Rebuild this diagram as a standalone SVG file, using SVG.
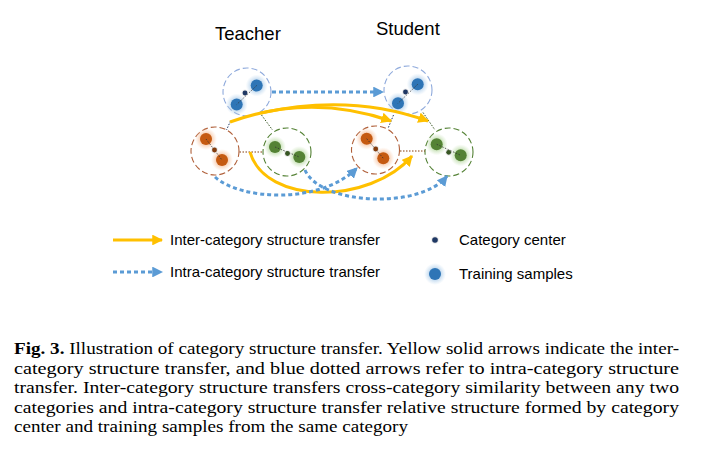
<svg xmlns="http://www.w3.org/2000/svg" width="702" height="455" viewBox="0 0 702 455">
<style>
.lbl{font-family:"Liberation Sans",Arial,sans-serif;font-size:15px;fill:#000}
.ttl{font-family:"Liberation Sans",Arial,sans-serif;font-size:18.5px;fill:#000}
.cap{font-family:"Liberation Serif","DejaVu Serif",serif;font-size:16.5px;fill:#000}
.ring{fill:#fff;stroke-width:1.1;stroke-dasharray:6 3}
.rb{stroke:#8faadc}.ro{stroke:#b0603a}.rg{stroke:#548235}
.inner{stroke:#333;stroke-width:0.8;stroke-dasharray:1.5 1.5;fill:none}
.link{stroke-width:1;stroke-dasharray:1.5 1.5;fill:none}
.yel{fill:none;stroke:#ffc000;stroke-width:3}
.blu{fill:none;stroke:#5b9bd5;stroke-width:3;stroke-dasharray:4 3}
</style>
<defs>
<radialGradient id="gb"><stop offset="0.35" stop-color="#9dc3e6" stop-opacity="0.9"/><stop offset="1" stop-color="#bdd7ee" stop-opacity="0"/></radialGradient>
<radialGradient id="go"><stop offset="0.35" stop-color="#f4b183" stop-opacity="0.9"/><stop offset="1" stop-color="#f8cbad" stop-opacity="0"/></radialGradient>
<radialGradient id="gg"><stop offset="0.35" stop-color="#a9d18e" stop-opacity="0.9"/><stop offset="1" stop-color="#c5e0b4" stop-opacity="0"/></radialGradient>
<radialGradient id="gc"><stop offset="0.3" stop-color="#aaa" stop-opacity="0.8"/><stop offset="1" stop-color="#ccc" stop-opacity="0"/></radialGradient>
<marker id="ay" viewBox="0 0 10 10" refX="9" refY="5" markerWidth="3.6" markerHeight="3.6" orient="auto" markerUnits="strokeWidth"><path d="M0,0 L10,5 L0,10 z" fill="#ffc000"/></marker>
<marker id="ab" viewBox="0 0 10 10" refX="9" refY="5" markerWidth="3.6" markerHeight="3.6" orient="auto" markerUnits="strokeWidth"><path d="M0,0 L10,5 L0,10 z" fill="#5b9bd5"/></marker>
<g id="sb"><circle r="11" fill="url(#gb)"/><circle r="6" fill="#2e75b6"/></g>
<g id="so"><circle r="11" fill="url(#go)"/><circle r="6" fill="#c55a11"/></g>
<g id="sg"><circle r="11" fill="url(#gg)"/><circle r="6" fill="#548235"/></g>
</defs>
<rect width="702" height="455" fill="#fff"/>
<text class="ttl" x="215" y="40">Teacher</text>
<text class="ttl" x="376" y="35">Student</text>

<g id="teacher-blue">
<circle class="ring rb" cx="247" cy="92" r="24"/>
<use href="#sb" x="256.7" y="85.5"/><use href="#sb" x="236.7" y="104.5"/>
<path class="inner" d="M256.7,85.5 L236.7,104.5"/>
<circle cx="245" cy="93" r="4" fill="url(#gc)"/><circle cx="245" cy="93" r="2.4" fill="#1f3864"/>
</g>
<g id="teacher-orange">
<circle class="ring ro" cx="215" cy="151" r="24"/>
<use href="#so" x="206" y="139"/><use href="#so" x="222" y="160"/>
<path class="inner" d="M206,139 L222,160"/>
<circle cx="214.5" cy="150" r="4" fill="url(#gc)"/><circle cx="214.5" cy="150" r="2.4" fill="#843c0c"/>
</g>
<g id="teacher-green">
<circle class="ring rg" cx="287" cy="152" r="24"/>
<use href="#sg" x="275" y="147"/><use href="#sg" x="299.3" y="157"/>
<path class="inner" d="M275,147 L299.3,157"/>
<circle cx="287.5" cy="153.5" r="4" fill="url(#gc)"/><circle cx="287.5" cy="153.5" r="2.4" fill="#375623"/>
</g>
<g id="student-blue">
<circle class="ring rb" cx="408" cy="90" r="24"/>
<use href="#sb" x="417.7" y="84.3"/><use href="#sb" x="398" y="103.3"/>
<path class="inner" d="M417.7,84.3 L398,103.3"/>
<circle cx="405.5" cy="92" r="4" fill="url(#gc)"/><circle cx="405.5" cy="92" r="2.4" fill="#1f3864"/>
</g>
<g id="student-orange">
<circle class="ring ro" cx="375.5" cy="150" r="24"/>
<use href="#so" x="366.7" y="138.7"/><use href="#so" x="383.3" y="158.3"/>
<path class="inner" d="M366.7,138.7 L383.3,158.3"/>
<circle cx="375.7" cy="149" r="4" fill="url(#gc)"/><circle cx="375.7" cy="149" r="2.4" fill="#843c0c"/>
</g>
<g id="student-green">
<circle class="ring rg" cx="449" cy="152" r="24"/>
<use href="#sg" x="436.7" y="144.3"/><use href="#sg" x="460.7" y="155.3"/>
<path class="inner" d="M436.7,144.3 L460.7,155.3"/>
<circle cx="448.7" cy="152.3" r="4" fill="url(#gc)"/><circle cx="448.7" cy="152.3" r="2.4" fill="#375623"/>
</g>

<g id="connectors">
<path class="link" stroke="#1f3864" d="M230.5,121 L226.5,130"/>
<path class="link" stroke="#375623" d="M261.5,115 L272.5,130"/>
<path class="link" stroke="#843c0c" stroke-dasharray="5 2 1.5 2" d="M239.5,152 L263,152"/>
<path class="link" stroke="#1f3864" d="M393.5,115 L388,128.5"/>
<path class="link" stroke="#375623" d="M423,112.5 L435,130"/>
<path class="link" stroke="#843c0c" stroke-dasharray="5 2 1.5 2" d="M400,151 L425,151"/>

<path class="blu" marker-end="url(#ab)" d="M272,92 L383,92"/>
<path class="yel" marker-end="url(#ay)" d="M230,122 Q310,93 391,121"/>
<path class="yel" marker-end="url(#ay)" d="M261,113 Q350,93 428,121"/>
<path class="yel" marker-end="url(#ay)" d="M250,152 C265,205 370,205 412,156"/>
<path class="blu" marker-end="url(#ab)" d="M215,177 C240,200 320,205 357,168"/>
<path class="blu" marker-end="url(#ab)" d="M305,170 C320,205 420,210 447,176"/>
</g>

<g id="legend">
<path class="yel" marker-end="url(#ay)" d="M113,240 L162,240"/>
<text class="lbl" x="170" y="245">Inter-category structure transfer</text>
<path class="blu" marker-end="url(#ab)" d="M113,272 L162,272"/>
<text class="lbl" x="170" y="277">Intra-category structure transfer</text>
<circle cx="435" cy="240" r="4.5" fill="url(#gc)"/><circle cx="435" cy="240" r="2.8" fill="#1f3864"/>
<text class="lbl" x="459" y="245">Category center</text>
<use href="#sb" x="435" y="274"/>
<text class="lbl" x="459" y="279">Training samples</text>
</g>

<g id="caption">
<text class="cap" x="14" y="354" textLength="665" lengthAdjust="spacingAndGlyphs"><tspan font-weight="bold">Fig. 3.</tspan> Illustration of category structure transfer. Yellow solid arrows indicate the inter-</text>
<text class="cap" x="14" y="373.5" textLength="665" lengthAdjust="spacingAndGlyphs">category structure transfer, and blue dotted arrows refer to intra-category structure</text>
<text class="cap" x="14" y="393" textLength="665" lengthAdjust="spacingAndGlyphs">transfer. Inter-category structure transfers cross-category similarity between any two</text>
<text class="cap" x="14" y="412.5" textLength="665" lengthAdjust="spacingAndGlyphs">categories and intra-category structure transfer relative structure formed by category</text>
<text class="cap" x="14" y="432" textLength="394" lengthAdjust="spacingAndGlyphs">center and training samples from the same category</text>
</g>
</svg>
